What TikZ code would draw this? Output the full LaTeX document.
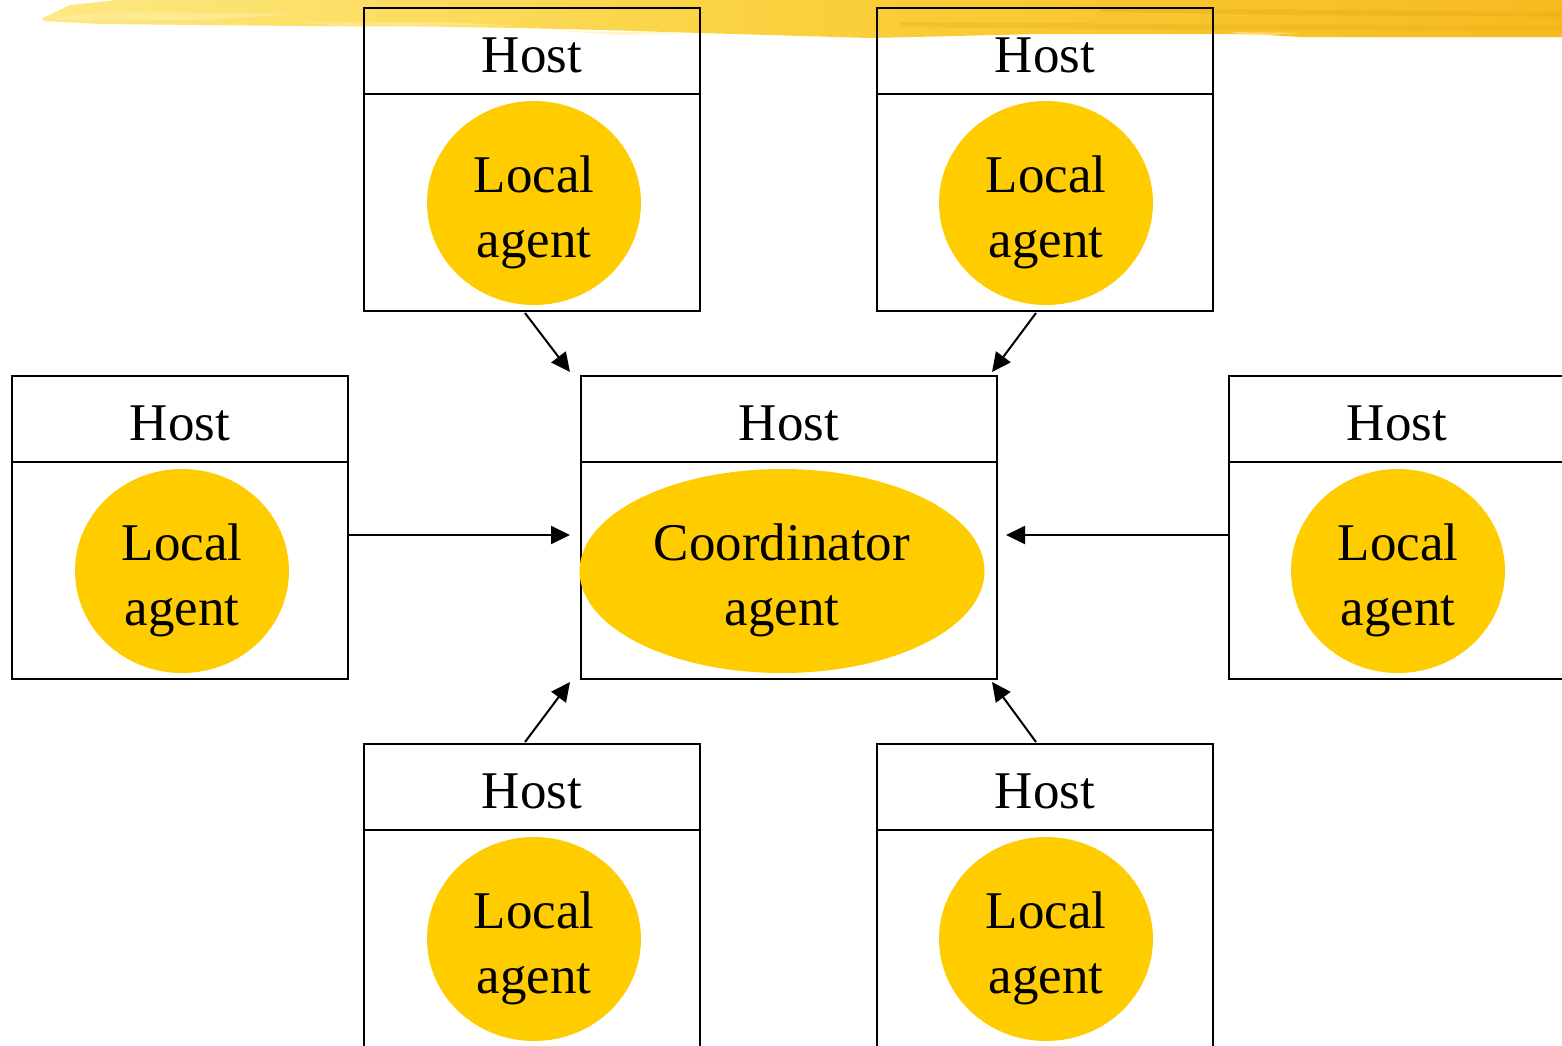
\documentclass[tikz,border=0pt]{standalone}
\usepackage{fontspec}
\setmainfont{Liberation Serif}
\usetikzlibrary{shapes.geometric,arrows.meta,calc}
\definecolor{gold}{RGB}{255,204,0}
\definecolor{brushA}{RGB}{254,232,130}
\definecolor{brushM}{RGB}{250,208,60}
\definecolor{brushB}{RGB}{246,186,30}
\definecolor{brushC}{RGB}{232,172,30}
\definecolor{brushD}{RGB}{255,238,160}
\begin{document}
\begin{tikzpicture}[x=0.5pt,y=-0.5pt,
  hostbox/.style={draw, line width=1pt, rectangle, inner sep=0pt, anchor=north west,
    minimum width=168pt, minimum height=151.5pt},
  hostline/.style={line width=1pt},
  hosttext/.style={font=\fontsize{26.5}{32.5}\selectfont, anchor=base, inner sep=0pt},
  agent/.style={ellipse, fill=gold, inner sep=0pt, minimum width=107pt, minimum height=102pt,
    align=center, text height=60pt, text depth=6pt, font=\fontsize{26.5}{32.5}\selectfont},
  coord/.style={agent, minimum width=202.5pt},
  arr/.style={line width=1pt, -{Triangle[length=9.5pt,width=9pt]}}
]
\useasboundingbox (0,0) rectangle (1562,1045);
% brush stroke
\shade[left color=brushA, right color=brushB, middle color=brushM]
  (43,18) -- (70,5) -- (117,0) -- (117,-2) -- (1562,-2) -- (1562,37) -- (1300,37) -- (1250,34)
  -- (1040,34) -- (870,38) -- (700,33) -- (600,30) -- (520,28) -- (400,26) -- (300,26)
  -- (200,25) -- (100,24) -- (43,21) -- cycle;
\fill[brushD, opacity=0.6] (45,17) -- (120,12) -- (300,14) -- (200,20) -- (60,20) -- cycle;
\fill[brushD, opacity=0.5] (300,22) -- (450,22) -- (520,26) -- (350,27) -- cycle;
\fill[brushC, opacity=0.45] (1100,8) -- (1562,12) -- (1562,17) -- (1300,15) -- (1100,12) -- cycle;
\fill[brushC, opacity=0.35] (900,22) -- (1200,24) -- (1562,26) -- (1562,30) -- (1200,30) -- (900,27) -- cycle;
\fill[brushD, opacity=0.6] (560,31) -- (700,33) -- (620,35) -- cycle;
\fill[brushD, opacity=0.6] (1230,32) -- (1300,33) -- (1250,36) -- cycle;

% hosts
\node[hostbox] (h1) at (363,7) {};
\node[hostbox] (h2) at (876,7) {};
\node[hostbox] (hl) at (11,375) {};
\node[hostbox, minimum width=208pt] (hc) at (580,375) {};
\node[hostbox] (hr) at (1228,375) {};
\node[hostbox, minimum height=160pt] (hb1) at (363,743) {};
\node[hostbox, minimum height=160pt] (hb2) at (876,743) {};

\foreach \h in {h1,h2,hl,hc,hr,hb1,hb2}{
  \draw[hostline] ($(\h.north west)+(0,87)$) -- ($(\h.north east)+(0,87)$);
  \node[hosttext] (\h-t) at ($(\h.north)+(0,65)$) {Host};
}

% agents
\node[agent] (a1) at (534,203) {Local\\agent};
\node[agent] (a2) at (1046,203) {Local\\agent};
\node[agent] (al) at (182,571) {Local\\agent};
\node[coord] (ac) at (782,571) {Coordinator\\agent};
\node[agent] (ar) at (1398,571) {Local\\agent};
\node[agent] (ab1) at (534,939) {Local\\agent};
\node[agent] (ab2) at (1046,939) {Local\\agent};

% arrows
\draw[arr] ($(h1.south)+(-7,1)$) -- ($(hc.north west)+(-10,-3)$);
\draw[arr] ($(h2.south)+(-9,1)$) -- ($(hc.north east)+(-6,-3)$);
\draw[arr] ($(hl.east)+(0,7.5)$) -- ($(hc.west)+(-10,7.5)$);
\draw[arr] ($(hr.west)+(0,7.5)$) -- ($(hc.east)+(8,7.5)$);
\draw[arr] ($(hb1.north)+(-7,-1)$) -- ($(hc.south west)+(-10,2)$);
\draw[arr] ($(hb2.north)+(-9,-1)$) -- ($(hc.south east)+(-6,2)$);
\end{tikzpicture}
\end{document}
